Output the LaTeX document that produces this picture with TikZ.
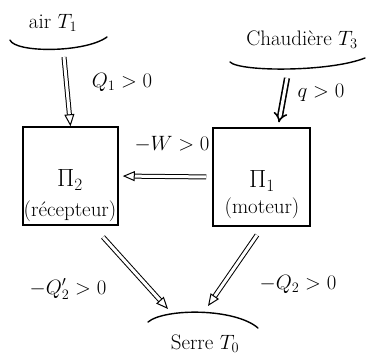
\documentclass[tikz,border=0pt]{standalone}
\usetikzlibrary{arrows.meta}
\begin{document}
\begin{tikzpicture}[x=1pt,y=-1pt,
  txt/.style={font=\fontsize{21}{24}\selectfont, inner sep=0pt},
  big/.style={font=\fontsize{24}{26}\selectfont, inner sep=0pt},
  box/.style={draw, line width=1.5pt, inner sep=0pt},
  dbl/.style={double, double distance=3pt, line width=1pt, -{Triangle[open,length=12pt,width=10pt,line width=1pt]}},
  dblthick/.style={double, double distance=3pt, line width=1.6pt, -{Implies}},
  arc/.style={line width=1.4pt, line cap=round}]
\useasboundingbox (0,0) rectangle (370,360);
% sources
\node[txt] (air) at (53,23) {air $T_1$};
\draw[arc] (10,40) .. controls (15,53) and (85,53) .. (107,37);
\coordinate (airout) at (64,57);
\node[txt] (chaud) at (302,40) {Chaudière $T_3$};
\draw[arc] (230,62) .. controls (240,72) and (330,72) .. (365,58);
\coordinate (chout) at (287,78);
% boxes
\node[box, minimum width=95pt, minimum height=98pt] (L) at (70.5,176) {};
\node[big] (Lname) at (70,180) {$\Pi_2$};
\node[txt] (Lrole) at (70,211) {(récepteur)};
\node[box, minimum width=97pt, minimum height=98pt] (R) at (261.5,177) {};
\node[big] (Rname) at (262,181) {$\Pi_1$};
\node[txt] (Rrole) at (262,208) {(moteur)};
% sink
\draw[arc] (148,322) .. controls (165,308) and (235,308) .. (258,328);
\node[txt] (serre) at (205,344) {Serre $T_0$};
\coordinate (s1) at (168,309);
\coordinate (s2) at (208,306);
\coordinate (l1) at (103,237);
\coordinate (r1) at (257,235);
% arrows
\draw[dbl] (airout) -- (L.north);
\node[txt] (q1) at (122,82) {$Q_1>0$};
\draw[dblthick, shorten >=5pt] (chout) -- (R.north -| 278,0);
\node[txt] (q) at (321,93) {$q>0$};
\draw[dbl, shorten <=6pt, shorten >=4pt] (R.west) -- (L.east);
\node[txt] (w) at (172,144) {$-W>0$};
\draw[dbl] (l1) -- (s1);
\node[txt] (q2p) at (68,289) {$-Q_2'>0$};
\draw[dbl] (r1) -- (s2);
\node[txt] (q2) at (298,284) {$-Q_2>0$};
\end{tikzpicture}
\end{document}
